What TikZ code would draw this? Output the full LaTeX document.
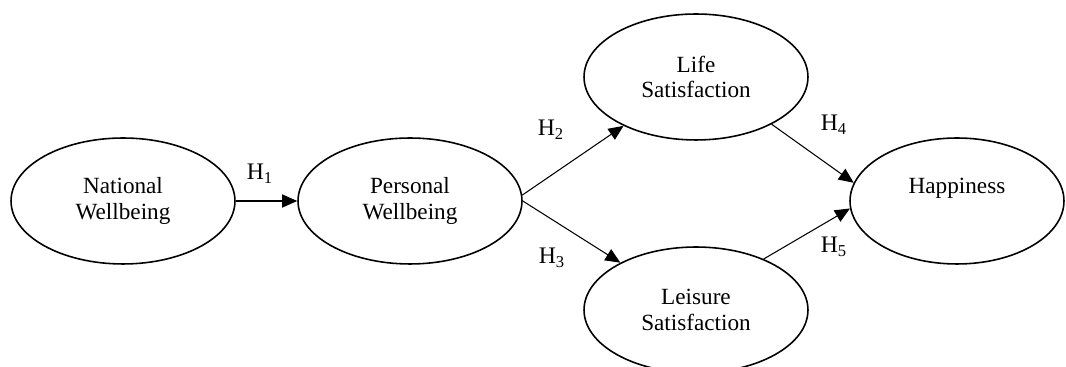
\documentclass[tikz,border=0pt]{standalone}
\usepackage{fontspec}
\setmainfont{Liberation Serif}
\usetikzlibrary{shapes.geometric,arrows.meta}
\tikzset{
  latent/.style={ellipse,draw,line width=0.9pt,minimum width=4.48cm,minimum height=2.52cm,align=center,inner sep=0pt,font=\fontsize{13.2}{14.5}\selectfont},
  path/.style={line width=0.6pt,-{Triangle[length=0.3cm,width=0.26cm]}},
  hyp/.style={inner sep=0pt,font=\fontsize{13.5}{15}\selectfont}
}
\begin{document}
\begin{tikzpicture}[x=0.02cm,y=-0.02cm]
\useasboundingbox (0,0) rectangle (1066,367);
\node[latent] (nat) at (123,201) {National\\Wellbeing};
\node[latent] (pers) at (410,201) {Personal\\Wellbeing};
\node[latent] (life) at (696,77) {Life\\Satisfaction};
\node[latent] (leis) at (696,310) {Leisure\\Satisfaction};
\node[latent,minimum width=4.28cm] (hap) at (957,201) {Happiness\\[3pt]\mbox{}};
\draw[path] (nat.east) -- (pers.west);
\draw[path] (pers.3) -- (life.214);
\draw[path] (pers.east) -- (leis.148);
\draw[path] (life.328) -- (hap.170);
\draw[path] (leis.37) -- (hap.184);
\foreach \n/\x/\y in {1/260/174,2/551/130,3/552/258,4/834/125,5/834/247}
  \node[hyp] (h\n) at (\x,\y) {H\textsubscript{\n}};
\end{tikzpicture}
\end{document}
